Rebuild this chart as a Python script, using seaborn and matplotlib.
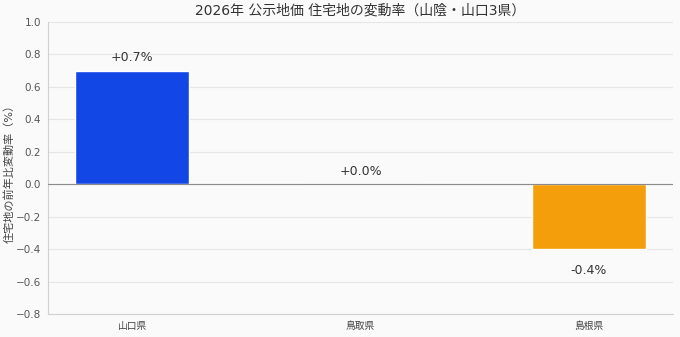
import matplotlib
matplotlib.use("Agg")
import matplotlib.pyplot as plt
import seaborn as sns
import pandas as pd

prefectures = ["山口県", "鳥取県", "島根県"]
change_rates = [0.7, 0.0, -0.4]
bar_colors = ["#1347e5", "#6b7280", "#f59e0b"]
title = "2026年 公示地価 住宅地の変動率（山陰・山口3県）"
ylabel = "住宅地の前年比変動率（%）"

sns.set_theme(style="whitegrid")
plt.rcParams['font.family'] = ['DejaVu Sans', 'Noto Sans CJK JP']

df = pd.DataFrame({"pref": prefectures, "rate": change_rates})

fig = plt.figure(figsize=(6.8, 3.37), dpi=100, facecolor="#fafafa")
ax = fig.add_axes([0.0706, 0.068, 0.919, 0.867])
ax.set_facecolor("#fafafa")

sns.barplot(data=df, x="pref", y="rate", hue="pref", palette=bar_colors,
            width=0.5, ax=ax, legend=False, saturation=1)

ax.set_ylim(-0.8, 1.0)
ax.set_xlim(-0.37, 2.37)
ax.set_yticks([-0.8, -0.6, -0.4, -0.2, 0.0, 0.2, 0.4, 0.6, 0.8, 1.0])
ax.axhline(0, color="#8a8a8a", linewidth=0.8, zorder=3)
ax.grid(axis="y", color="#e6e6e6", linewidth=0.8)
ax.grid(axis="x", visible=False)
for s in ["top", "right"]:
    ax.spines[s].set_visible(False)
for s in ["left", "bottom"]:
    ax.spines[s].set_color("#d0d0d0")
    ax.spines[s].set_linewidth(0.8)

ax.tick_params(axis="both", length=3, width=0.6, pad=2)
ax.tick_params(axis="y", labelsize=7.5, colors="#cccccc", labelcolor="#555555")
ax.tick_params(axis="x", labelsize=7, colors="#555555", labelcolor="#444444")
ax.set_xlabel("")
ax.set_ylabel(ylabel, fontsize=8, color="#444444")
ax.yaxis.set_label_coords(-0.054, 0.49)
ax.set_title(title, fontsize=10, color="#333333", pad=5)

for i, v in enumerate(change_rates):
    if v >= 0:
        ax.text(i, v + 0.08, f"+{v:.1f}%", ha="center", va="center", fontsize=9, color="#333333")
    else:
        ax.text(i, v - 0.13, f"{v:.1f}%", ha="center", va="center", fontsize=9, color="#333333")

fig.savefig("out.png", dpi=100, facecolor=fig.get_facecolor())
